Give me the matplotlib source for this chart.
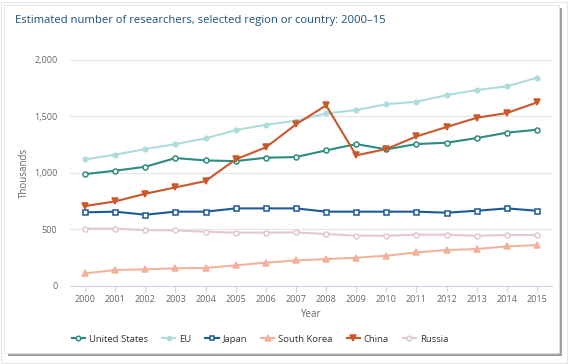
import matplotlib
matplotlib.use("Agg")
import matplotlib.pyplot as plt
from matplotlib.patches import Rectangle

years = list(range(2000, 2016))
united_states = [989, 1019, 1054, 1131, 1110, 1104, 1134, 1140, 1199, 1255, 1208, 1255, 1267, 1308, 1356, 1382]
eu = [1119, 1161, 1211, 1255, 1305, 1379, 1426, 1462, 1527, 1556, 1609, 1630, 1689, 1734, 1766, 1843]
japan = [650, 656, 629, 656, 656, 685, 685, 685, 656, 656, 656, 656, 647, 664, 685, 664]
south_korea = [109, 139, 145, 154, 157, 180, 204, 224, 236, 248, 266, 295, 316, 325, 348, 360]
china = [706, 747, 815, 871, 927, 1119, 1226, 1429, 1598, 1155, 1211, 1323, 1406, 1488, 1530, 1624]
russia = [505, 505, 493, 490, 478, 470, 470, 472, 458, 443, 443, 452, 452, 443, 449, 449]
y_ticks = [0, 500, 1000, 1500, 2000]
y_tick_labels = ["0", "500", "1,000", "1,500", "2,000"]

plt.rcParams['font.family'] = ['Open Sans', 'DejaVu Sans']

W, H = 570, 364
fig = plt.figure(figsize=(W / 100, H / 100), dpi=100)
fig.patch.set_facecolor("white")

# card with shadow
fig.patches.append(Rectangle((1 / W, 1 / H), 566 / W, 361 / H, transform=fig.transFigure,
                             facecolor="white", edgecolor="#e6e6e6", lw=0.8, zorder=0))
fig.patches.append(Rectangle((8 / W, (H - 356) / H), 554 / W, 348 / H, transform=fig.transFigure,
                             facecolor="#a0a0a0", edgecolor="none", zorder=0.5))
fig.patches.append(Rectangle((4 / W, (H - 353) / H), 555 / W, 348 / H, transform=fig.transFigure,
                             facecolor="white", edgecolor="#e0e0e0", lw=0.6, zorder=1))

ax = fig.add_axes([70 / W, 1 - 285.7 / H, 482 / W, 225.7 / H])
ax.set_facecolor("none")
ax.set_zorder(2)

series = [
    ("United States", united_states, "#2e8b80", "o", "white", 3.6),
    ("EU", eu, "#acdcdc", "o", "#acdcdc", 3.2),
    ("Japan", japan, "#1d5a98", "s", "white", 3.6),
    ("South Korea", south_korea, "#f2b39c", "^", "#f2b39c", 4.2),
    ("China", china, "#c9582a", "v", "#c9582a", 4.2),
    ("Russia", russia, "#e4c8cc", "o", "white", 3.6),
]
for name, vals, col, mk, mfc, ms in series:
    ax.plot(years, vals, color=col, lw=1.5, marker=mk, markersize=ms,
            markerfacecolor=mfc, markeredgecolor=col, markeredgewidth=1.1, label=name, zorder=3)

ax.set_xlim(1999.5, 2015.5)
ax.set_ylim(0, 2000)
ax.set_yticks(y_ticks)
ax.set_yticklabels(y_tick_labels)
ax.set_xticks(years)
ax.set_xticklabels([str(y) for y in years])
ax.grid(axis="y", color="#e6e6e6", lw=0.8)
ax.set_axisbelow(True)
for s in ["top", "right", "left"]:
    ax.spines[s].set_visible(False)
ax.spines["bottom"].set_color("#ccd6eb")
ax.spines["bottom"].set_linewidth(0.8)
ax.tick_params(axis="y", length=0, labelsize=6.5, labelcolor="#666666", pad=9)
ax.tick_params(axis="x", length=4, color="#ccd6eb", labelsize=6.5, labelcolor="#666666", pad=3)
ax.set_xlabel("Year", fontsize=7, color="#666666", labelpad=3)
ax.set_ylabel("Thousands", fontsize=7, color="#666666", labelpad=3)

fig.text(15 / W, 1 - 20 / H, "Estimated number of researchers, selected region or country: 2000\u201315",
         fontsize=8.1, color="#1f4f7a", va="center", ha="left")

handles, labels = ax.get_legend_handles_labels()
fig.legend(handles, labels, loc="center", bbox_to_anchor=(260 / W, 1 - 339 / H), ncol=6,
           frameon=False, fontsize=6.8, handlelength=1.4, columnspacing=1.5, handletextpad=0.4,
           labelcolor="#333333", markerscale=0.9)

fig.savefig("out.png", dpi=100, facecolor="white")
